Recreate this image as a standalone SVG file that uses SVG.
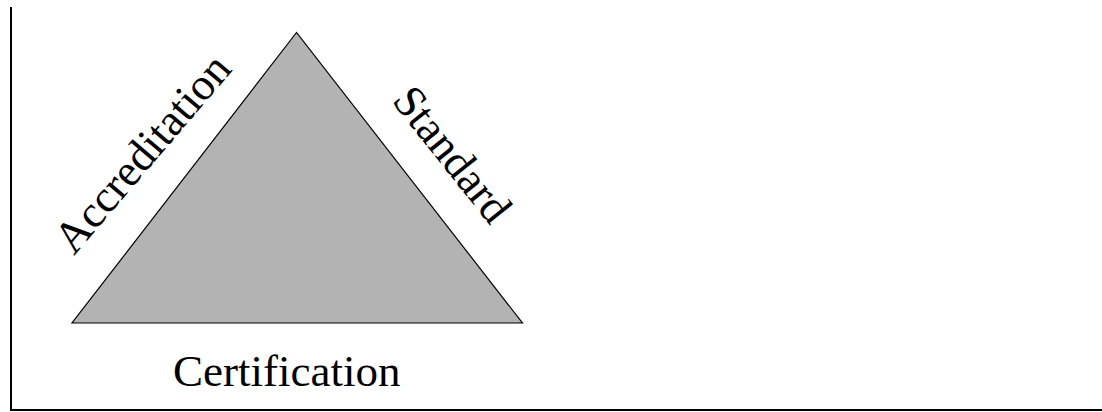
<svg xmlns="http://www.w3.org/2000/svg" width="1102" height="412" viewBox="0 0 1102 412">
<style>
.lbl{font-family:"Liberation Serif","Times New Roman",serif;font-size:45px;fill:#000}
.frame{stroke:#000;stroke-width:2;fill:none}
</style>
<rect width="1102" height="412" fill="#fff"/>
<g id="frame">
<line class="frame" x1="11" y1="7" x2="11" y2="411"/>
<line class="frame" x1="10" y1="410" x2="1102" y2="410"/>
</g>
<g id="triangle">
<polygon points="296.5,32.5 72,323 522.5,323" fill="#b3b3b3" stroke="#000" stroke-width="1.2"/>
</g>
<g id="label-accreditation">
<text class="lbl" transform="translate(74,256) rotate(-49.5)">Accreditation</text>
</g>
<g id="label-standard">
<text class="lbl" transform="translate(391,101) rotate(51.5)">Standard</text>
</g>
<g id="label-certification">
<text class="lbl" x="173" y="386">Certification</text>
</g>
</svg>
